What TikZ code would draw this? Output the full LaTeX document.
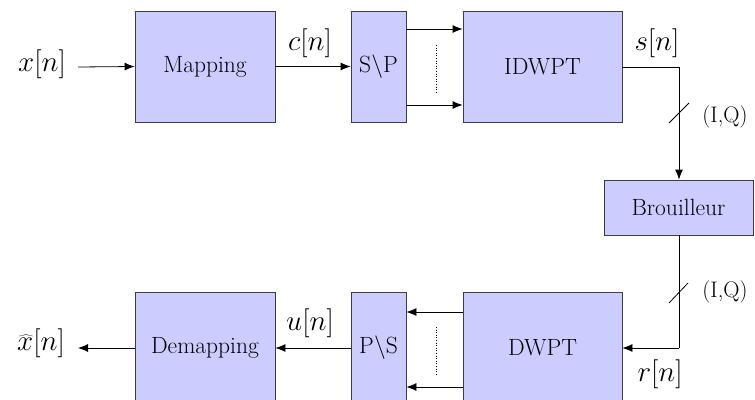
\RequirePackage{fix-cm}
\documentclass[tikz,border=0pt]{standalone}
\usepackage{fontspec}
\usetikzlibrary{arrows.meta}
\definecolor{boxfill}{RGB}{204,204,255}
\definecolor{boxline}{RGB}{60,60,70}
\begin{document}
\begin{tikzpicture}[x=1pt,y=-1pt,
  blk/.style={draw=boxline,fill=boxfill,line width=0.8pt,inner sep=0pt,
    font=\fontsize{23.5}{28}\selectfont},
  conn/.style={line width=0.8pt,-{Latex[length=10pt,width=8pt]}},
  wire/.style={line width=0.8pt},
  lbl/.style={inner sep=0pt,font=\fontsize{29}{34}\selectfont},
  iq/.style={inner sep=0pt,font=\fontsize{22.5}{26}\selectfont},
  dots/.style={line width=0.6pt,dotted}]
\useasboundingbox (0,0) rectangle (755,399);
\clip (0,0) rectangle (755,399);
% blocks
\node[blk,minimum width=140pt,minimum height=111pt] (map) at (205,66.5) {Mapping};
\node[blk,minimum width=55pt,minimum height=111pt] (sp) at (378.5,66.5) {S\textbackslash P};
\node[blk,minimum width=159pt,minimum height=111pt] (idw) at (542.5,66.5) {IDWPT};
\node[blk,minimum width=149pt,minimum height=55pt] (bro) at (678.5,207.5) {Brouilleur};
\node[blk,minimum width=159pt,minimum height=111pt] (dw) at (542.5,348) {DWPT};
\node[blk,minimum width=55pt,minimum height=111pt] (ps) at (378.5,348) {P\textbackslash S};
\node[blk,minimum width=140pt,minimum height=111pt] (dem) at (205,348) {Demapping};
% labels
\node[lbl] (xin) at (42,64) {$x[n]$};
\node[lbl] (cn) at (310,43) {$c[n]$};
\node[lbl] (sn) at (657,43) {$s[n]$};
\node[lbl] (rn) at (660,374) {$r[n]$};
\node[lbl] (un) at (310,323) {$u[n]$};
\node[lbl] (xout) at (41,343) {$\widehat{x}[n]$};
\node[iq] (iq1) at (725,117) {(I,Q)};
\node[iq] (iq2) at (725,292) {(I,Q)};
% free ends and corners
\coordinate (xs) at (78,67);
\coordinate (xe) at (78,348);
\coordinate (c1) at (679,67);
\coordinate (c2) at (679,348);
% connectors top
\draw[conn] (xs) -- (map.west);
\draw[conn] (map.east) -- (sp.west);
\draw[conn] (sp.east |- 0,29) -- (idw.west |- 0,29);
\draw[conn] (sp.east |- 0,105) -- (idw.west |- 0,105);
\draw[dots] (436,45) -- (436,93);
\draw[wire] (idw.east |- c1) -- (c1);
\draw[conn] (c1) -- (bro.north -| c1);
\draw[wire] (669,123) -- (689,103);
% connectors bottom
\draw[wire] (bro.south -| c2) -- (c2);
\draw[conn] (c2) -- (dw.east |- c2);
\draw[wire] (669,303) -- (688,283);
\draw[conn] (dw.west |- 0,312) -- (ps.east |- 0,312);
\draw[conn] (dw.west |- 0,387) -- (ps.east |- 0,387);
\draw[dots] (436,327) -- (436,375);
\draw[conn] (ps.west |- dem.east) -- (dem.east);
\draw[conn] (dem.west) -- (xe);
\end{tikzpicture}
\end{document}
